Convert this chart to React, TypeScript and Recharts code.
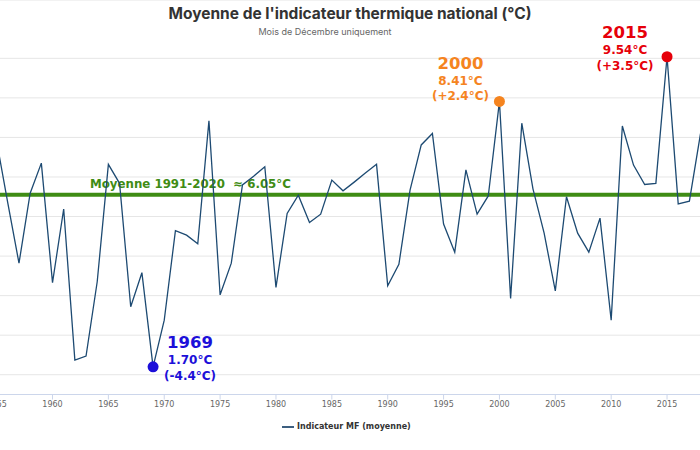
import React from 'react';
import {
  LineChart,
  Line,
  XAxis,
  YAxis,
  CartesianGrid,
  ReferenceLine,
  ReferenceDot,
} from 'recharts';

const YEARS = [
  1955, 1956, 1957, 1958, 1959, 1960, 1961, 1962, 1963, 1964,
  1965, 1966, 1967, 1968, 1969, 1970, 1971, 1972, 1973, 1974,
  1975, 1976, 1977, 1978, 1979, 1980, 1981, 1982, 1983, 1984,
  1985, 1986, 1987, 1988, 1989, 1990, 1991, 1992, 1993, 1994,
  1995, 1996, 1997, 1998, 1999, 2000, 2001, 2002, 2003, 2004,
  2005, 2006, 2007, 2008, 2009, 2010, 2011, 2012, 2013, 2014,
  2015, 2016, 2017, 2018,
];

const TEMPS = [
  7.4, 5.84, 4.32, 6.09, 6.85, 3.83, 5.69, 1.87, 1.97, 3.85,
  6.82, 6.34, 3.22, 4.08, 1.7, 2.88, 5.14, 5.03, 4.81, 7.92,
  3.52, 4.32, 6.3, 6.52, 6.76, 3.71, 5.58, 6.04, 5.35, 5.56,
  6.42, 6.15, 6.37, 6.6, 6.82, 3.75, 4.29, 6.17, 7.31, 7.6,
  5.31, 4.6, 6.68, 5.56, 6.02, 8.41, 3.43, 7.86, 6.2, 5.08,
  3.62, 6.0, 5.08, 4.6, 5.46, 2.88, 7.79, 6.8, 6.31, 6.34,
  9.54, 5.82, 5.89, 7.6,
];

const X_TICKS = [1955, 1960, 1965, 1970, 1975, 1980, 1985, 1990, 1995, 2000, 2005, 2010, 2015];
const Y_TICKS = [1, 1.5, 2, 2.5, 3, 3.5, 4, 4.5, 5, 5.5, 6, 6.5, 7, 7.5, 8, 8.5, 9, 9.5];

const MEAN_1991_2020 = 6.05;

// highlighted years: year, value, deviation label, colour, text offset
const HIGHLIGHTS = [
  { year: 1969, value: 1.7, delta: '(-4.4°C)', color: '#1c0fd9', dx: 37, dy: -24 },
  { year: 2000, value: 8.41, delta: '(+2.4°C)', color: '#f5841f', dx: -39, dy: -38 },
  { year: 2015, value: 9.54, delta: '(+3.5°C)', color: '#e6000a', dx: -42, dy: -24 },
];

const data = YEARS.map((year, i) => ({ year, temp: TEMPS[i] }));

const ANNOT_FONT = '"DejaVu Sans", Verdana, sans-serif';

const HighlightShape = (h: typeof HIGHLIGHTS[number]) => (props: any) => {
  const { cx, cy } = props;
  const tx = cx + h.dx;
  const ty = cy + h.dy;
  return (
    <g>
      <circle cx={cx} cy={cy} r={5.5} fill={h.color} />
      <text x={tx} y={ty} textAnchor="middle" dominantBaseline="central" fill={h.color}
        fontFamily={ANNOT_FONT} fontWeight="bold" fontSize={16.5}>
        {h.year}
      </text>
      <text x={tx} y={ty + 17.5} textAnchor="middle" dominantBaseline="central" fill={h.color}
        fontFamily={ANNOT_FONT} fontWeight="bold" fontSize={12}>
        {h.value.toFixed(2)}°C
      </text>
      <text x={tx} y={ty + 33} textAnchor="middle" dominantBaseline="central" fill={h.color}
        fontFamily={ANNOT_FONT} fontWeight="bold" fontSize={12}>
        {h.delta}
      </text>
    </g>
  );
};

const MeanLabel = (props: any) => {
  const { viewBox } = props;
  return (
    <text x={90} y={viewBox.y - 11} dominantBaseline="central" fill="#3f8c14"
      fontFamily={ANNOT_FONT} fontWeight="bold" fontSize={11.8} style={{ whiteSpace: 'pre' }}>
      {'Moyenne 1991-2020  ≈ 6.05°C'}
    </text>
  );
};

export default function App() {
  return (
    <div style={{ position: 'absolute', left: 0, top: 0, width: 700, height: 450, overflow: 'hidden', background: '#fff' }}>
      <LineChart width={700} height={450} data={data} margin={{ top: 0, right: 0, left: 0, bottom: 0 }}>
        <CartesianGrid vertical={false} stroke="#e6e6e6" />
        <XAxis
          dataKey="year"
          type="number"
          domain={[1955.3, 2017.95]}
          allowDataOverflow
          ticks={X_TICKS}
          interval={0}
          height={55.5}
          tickSize={5}
          tick={{ fontSize: 8, fill: '#666', fontFamily: '"DejaVu Sans", Verdana, sans-serif' }}
          tickLine={{ stroke: '#ccd6eb' }}
          axisLine={{ stroke: '#ccd6eb' }}
        />
        <YAxis hide type="number" domain={[1, 10.975]} allowDataOverflow ticks={Y_TICKS} />
        <ReferenceLine y={MEAN_1991_2020} stroke="#3f8c14" strokeWidth={4} label={<MeanLabel />} />
        <Line
          type="linear"
          dataKey="temp"
          stroke="#1d4a72"
          strokeWidth={1.3}
          dot={false}
          isAnimationActive={false}
        />
        {HIGHLIGHTS.map((h) => (
          <ReferenceDot key={h.year} x={h.year} y={h.value} r={5.5} shape={HighlightShape(h)} />
        ))}
      </LineChart>
      <div style={{ position: 'absolute', left: 0, top: 4, width: 700, textAlign: 'center', fontFamily: 'Inter, sans-serif', fontWeight: 700, fontSize: 15.5, color: '#333' }}>
        Moyenne de l'indicateur thermique national (°C)
      </div>
      <div style={{ position: 'absolute', left: 0, top: 26, width: 650, textAlign: 'center', fontFamily: 'Inter, sans-serif', fontSize: 9, color: '#666' }}>
        Mois de Décembre uniquement
      </div>
      <div style={{ position: 'absolute', left: 282, top: 422, display: 'flex', alignItems: 'center', fontFamily: '"DejaVu Sans", Verdana, sans-serif', fontWeight: 'bold', fontSize: 8, color: '#333' }}>
        <span style={{ display: 'inline-block', width: 12, height: 2, background: '#3d5f80', marginRight: 3 }} />
        Indicateur MF (moyenne)
      </div>
    </div>
  );
}
